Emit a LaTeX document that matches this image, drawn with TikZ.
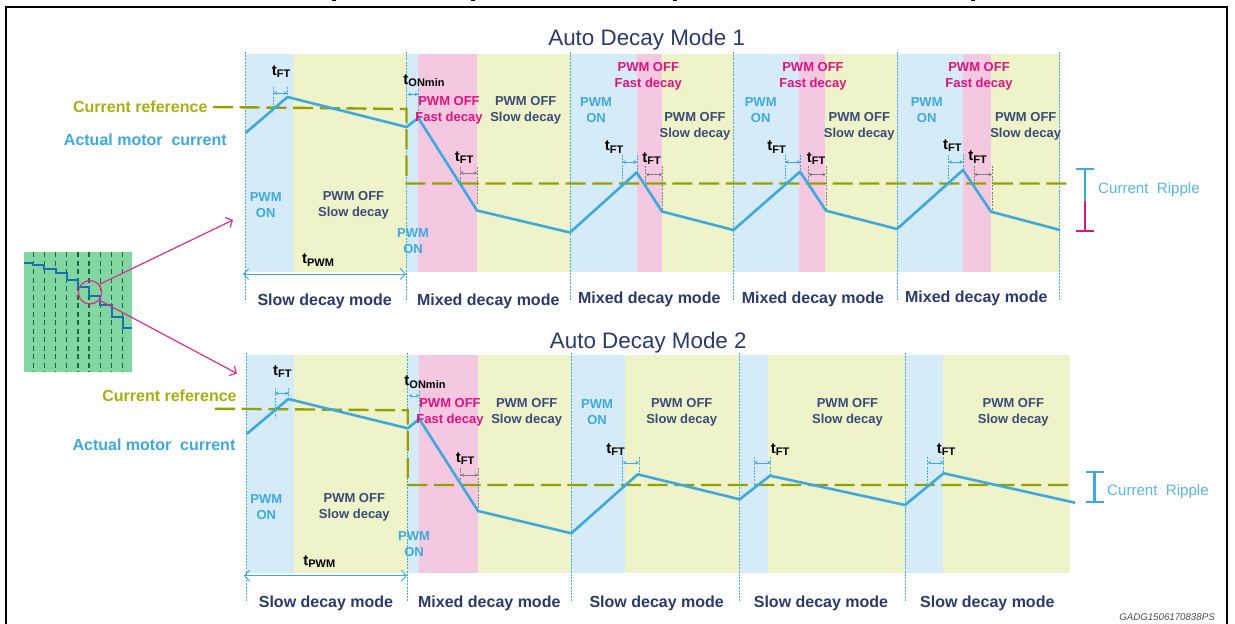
\documentclass[tikz,border=0pt]{standalone}
\usepackage{fontspec}
\setmainfont{Liberation Sans}
\usetikzlibrary{arrows.meta,positioning,calc}
\definecolor{onfill}{HTML}{D5EBF7}
\definecolor{slowfill}{HTML}{EFF3C9}
\definecolor{fastfill}{HTML}{F5C8E2}
\definecolor{wave}{HTML}{3FA9DC}
\definecolor{refline}{HTML}{93A000}
\definecolor{reftext}{HTML}{ABAD12}
\definecolor{slowtext}{HTML}{3A4C75}
\definecolor{modetext}{HTML}{2B3A6B}
\definecolor{fasttext}{HTML}{E0127F}
\definecolor{thumb}{HTML}{82D6A2}
\definecolor{thumbdash}{HTML}{17693F}
\definecolor{stair}{HTML}{1A6FB0}
\definecolor{zoomline}{HTML}{D9308C}
\tikzstyle{onbox} = [fill=onfill,draw=none]
\tikzstyle{slowbox} = [fill=slowfill,draw=none]
\tikzstyle{fastbox} = [fill=fastfill,draw=none]
\tikzstyle{guide} = [wave,line width=0.7pt,dash pattern=on 2pt off 1.2pt]
\tikzstyle{current} = [wave,line width=2.6pt,line join=round]
\tikzstyle{reference} = [refline,line width=2.4pt,dash pattern=on 20pt off 6.7pt]
\tikzstyle{pwmtext} = [inner sep=0pt,align=center,yshift=-1.5pt,font=\fontsize{13}{16}\selectfont\bfseries]
\tikzstyle{modetext} = [inner sep=0pt,yshift=-2pt,text=modetext,font=\fontsize{16}{18}\selectfont\bfseries]
\tikzstyle{sidetext} = [inner sep=0pt,yshift=-1pt,font=\fontsize{16}{18}\selectfont\bfseries]
\tikzstyle{ripple} = [inner sep=0pt,yshift=-2pt,text=wave!85,font=\fontsize{15.1}{18}\selectfont]
\tikzstyle{titletext} = [inner sep=0pt,yshift=-2.5pt,text=modetext,font=\fontsize{22.4}{26}\selectfont]
\tikzstyle{timetext} = [inner sep=0pt,yshift=-0.5pt,font=\bfseries]
\tikzstyle{span} = [thin,<->,>={Stealth[length=3.5pt,width=3.5pt]}]
\tikzstyle{spanline} = [line width=0.6pt,dash pattern=on 2pt off 1.2pt]
\tikzstyle{zoomarrow} = [zoomline,line width=1.2pt,->,>={Straight Barb[length=5pt,width=11pt]}]
\tikzstyle{pwmarrow} = [wave,line width=0.9pt,<->,>={Straight Barb[length=5pt,width=11pt]}]
\newcommand{\tsub}[1]{{\fontsize{15}{15}\selectfont t}\raisebox{-2.5pt}{\fontsize{11}{11}\selectfont #1}}
\begin{document}
\begin{tikzpicture}[x=1pt,y=-1pt]
	\useasboundingbox (0,0) rectangle (1235,624);
	\fill[white] (0,0) rectangle (1235,624);
	% frame
	\draw[black,line width=2pt] (5.5,624) -- (5.5,7) -- (1227,7) -- (1227,624);
	\foreach \x in {334,473,675,973} \fill[black] (\x-2,0) rectangle (\x+2,1);

	% thumbnail
	\fill[thumb] (24,252) rectangle (131.5,372);
	\foreach \x in {33.3,44.3,55.7,66.7,78,89,100.3,111.7,122.7}
		\draw[thumbdash,line width=1.5pt,dash pattern=on 5pt off 3.5pt] (\x,252) -- (\x,372);
	\draw[stair,line width=1.8pt] (24,262.7) -| (33.3,265) -| (44.3,268.7) -| (55.7,273.3) -| (66.7,279.7) -| (78,287.3) -| (89,296.3) -| (100.3,305.3) -| (111.7,317) -| (122.7,328.3) -- (131.5,328.3);
	\node[circle,draw=zoomline,line width=1.2pt,minimum size=23.4pt,inner sep=0pt] (lens) at (90,292.3) {};
	\coordinate (view_1) at (233,220);
	\coordinate (view_2) at (237,373.5);
	\draw[zoomarrow] (lens.40) -- (view_1);
	\draw[zoomarrow] (lens.-40) -- (view_2);

	% mode 1 shading
	\foreach \a/\b/\s in {245.5/292.5/onbox,292.5/406.5/slowbox,406.5/418.3/onbox,418.3/477/fastbox,477/570/slowbox,570/637/onbox,637/661.5/fastbox,661.5/733.5/slowbox,733.5/799/onbox,799/825/fastbox,825/897/slowbox,897/962.5/onbox,962.5/991/fastbox,991/1059.5/slowbox}
		\fill[\s] (\a,54) rectangle (\b,272);
	% mode 2 shading
	\foreach \a/\b/\s in {246.7/293.7/onbox,293.7/407.7/slowbox,407.7/419.3/onbox,419.3/478/fastbox,478/571.3/slowbox,571.3/624.7/onbox,624.7/739.7/slowbox,739.7/768.3/onbox,768.3/905.3/slowbox,905.3/943/onbox,943/1070/slowbox}
		\fill[\s] (\a,355) rectangle (\b,573.3);

	% guides
	\foreach \x in {245.5,406.5,570,733.5,897,1059.5}
		\draw[guide] (\x,52) -- (\x,301);
	\foreach \x in {246.7,407.7,571.3,739.7,905.3}
		\draw[guide] (\x,353) -- (\x,601.7);

	% current reference
	\coordinate (ra_0) at (213,107);
	\coordinate (ra_1) at (406.5,109);
	\coordinate (ra_2) at (406.5,183.5);
	\coordinate (ra_3) at (1068,183.5);
	\draw[reference] (ra_0) -- (ra_1) -- (ra_2) -- (ra_3);
	\coordinate (rb_0) at (215,408.7);
	\coordinate (rb_1) at (407.7,410.3);
	\coordinate (rb_2) at (407.7,485);
	\coordinate (rb_3) at (1070,485);
	\draw[reference] (rb_0) -- (rb_1) -- (rb_2) -- (rb_3);

	% spans, left/right/arrow/top/foot left/foot right/colour
	\foreach \a/\b/\y/\t/\fa/\fb/\c in {273.5/287.5/93/87/113/97/wave,622.5/637/162/155/183/172/wave,785/800.5/162/155/183/172/wave,948.3/963/162/155/183/170/wave,275/288.7/393.3/388/418/399/wave,622.7/639/462.7/457/485/474/wave,754.3/770.7/462.7/457/485/475/wave,927.7/943.7/462.7/457/485/473/wave,460/477.3/173/167/183/205/gray,645.7/662.5/174.6/166/183/211/gray,808.5/826/174.6/166/183/210/gray,974/992/174.6/166/183/211/gray,460.5/478.3/475/468/485/508/gray}{
		\coordinate (sa) at (\a,\y);
		\coordinate (sb) at (\b,\y);
		\draw[spanline,\c] (\a,\t) -- (\a,\fa);
		\draw[spanline,\c] (\b,\t) -- (\b,\fb);
		\draw[span,\c] (sa) -- (sb);
	}
	\foreach \a/\b/\y in {407.5/418.3/94.3,408.7/419.5/395.7}{
		\coordinate (sa) at (\a,\y);
		\coordinate (sb) at (\b,\y);
		\draw[span,wave] (sa) -- (sb);
		\draw[spanline,wave] (\b,\y-5) -- (\b,\y+23);
	}

	% actual motor current
	\foreach \x/\y [count=\i] in {245.5/133,287.5/97,406.5/127,418.3/118,477/210.5,570/232.5,636.7/172.5,662/211.5,733.5/230,800/171.7,826/210.7,897/229,963/170,991/211.7,1060/230}
		\coordinate (ca_\i) at (\x,\y);
	\draw[current] (ca_1) foreach \i in {2,...,15}{ -- (ca_\i)};
	\foreach \x/\y [count=\i] in {246.7/434,288.3/399,407.7/428.3,419.3/419,478/511,571.3/533.3,637.7/474.3,739.7/499.3,770/475.7,905/505,943.7/473.3,1075/502.7}
		\coordinate (cb_\i) at (\x,\y);
	\draw[current] (cb_1) foreach \i in {2,...,12}{ -- (cb_\i)};

	% pwm arrows
	\coordinate (pa_1) at (243,274);
	\coordinate (pa_2) at (406,274);
	\draw[pwmarrow] (pa_1) -- (pa_2);
	\coordinate (pb_1) at (244,575.7);
	\coordinate (pb_2) at (407,575.7);
	\draw[pwmarrow] (pb_1) -- (pb_2);

	% ripple bars
	\coordinate (rip_1) at (1085,169);
	\coordinate (rip_2) at (1085,200.5);
	\coordinate (rip_3) at (1085,231);
	\draw[wave,line width=2.2pt] (rip_1) -- (rip_2);
	\draw[wave,line width=2.2pt] ($(rip_1)+(-9,0)$) -- ($(rip_1)+(9,0)$);
	\draw[fasttext,line width=2.2pt] (rip_2) -- (rip_3);
	\draw[fasttext,line width=2.2pt] ($(rip_3)+(-9,0)$) -- ($(rip_3)+(9,0)$);
	\coordinate (rip_4) at (1094.5,471.7);
	\coordinate (rip_5) at (1094.5,502.3);
	\draw[wave,line width=2.2pt] (rip_4) -- (rip_5);
	\draw[wave,line width=2.2pt] ($(rip_4)+(-9,0)$) -- ($(rip_4)+(9,0)$);
	\draw[wave,line width=2.2pt] ($(rip_5)+(-9,0)$) -- ($(rip_5)+(9,0)$);
	\node[ripple,anchor=west] (ripple_1) at (1098,188) {Current\ \ Ripple};
	\node[ripple,anchor=west] (ripple_2) at (1107,489.3) {Current\ \ Ripple};

	% labels
	\node[titletext] (title_1) at (646.7,37) {Auto Decay Mode 1};
	\node[titletext] (title_2) at (648.3,340.7) {Auto Decay Mode 2};
	\node[sidetext,text=reftext] (iref_1) at (140.3,106) {Current reference};
	\node[sidetext,text=wave] (imot_1) at (145.3,139) {Actual motor\ \ current};
	\node[sidetext,text=reftext] (iref_2) at (169.5,394.3) {Current reference};
	\node[sidetext,text=wave] (imot_2) at (154,443.3) {Actual motor\ \ current};
	\foreach \x/\y [count=\i] in {265.7/204,413/240,596/108.7,760.7/108.7,926.7/108.7,266.3/505.7,414/542.3,597/410.5}
		\node[pwmtext,text=wave] (on_\i) at (\x,\y) {PWM\\ON};
	\foreach \x/\y [count=\i] in {353.5/204,525.7/108.7,695/124.7,859.3/124.7,1025.7/124.7,354.3/505.7,526.7/410.5,681.7/410.5,847.5/410.5,1013.3/410.5}
		\node[pwmtext,text=slowtext] (slow_\i) at (\x,\y) {PWM OFF\\Slow decay};
	\foreach \x/\y [count=\i] in {449/108.7,648.3/74.7,813/74.7,979/74.7,450/410.5}
		\node[pwmtext,text=fasttext] (fast_\i) at (\x,\y) {PWM OFF\\Fast decay};
	\foreach \x/\y [count=\i] in {281/71,614/146.7,651.7/158,776.7/146.7,816/158,952.3/145,977.7/156.7,464/157,282.3/371,465/458.3,615.7/449.3,780/449.3,946/449.3}
		\node[timetext] (tft_\i) at (\x,\y) {\tsub{FT}};
	\node[timetext] (ton_1) at (424,80) {\tsub{ONmin}};
	\node[timetext] (ton_2) at (425,381.7) {\tsub{ONmin}};
	\node[timetext] (tpwm_1) at (318,259.5) {\tsub{PWM}};
	\node[timetext] (tpwm_2) at (319.3,561) {\tsub{PWM}};
	\foreach \x/\y/\t [count=\i] in {324.7/299/Slow,488.3/299/Mixed,649.3/297.7/Mixed,813/297/Mixed,976.3/296.7/Mixed,326/601/Slow,489.3/601/Mixed,656.7/601/Slow,821/601/Slow,987.3/601/Slow}
		\node[modetext] (mode_\i) at (\x,\y) {\t{} decay mode};
	\node[inner sep=0pt,text=black!70,font=\fontsize{9.7}{11}\selectfont\itshape] (code) at (1167,617.3) {GADG1506170838PS};
\end{tikzpicture}
\end{document}
